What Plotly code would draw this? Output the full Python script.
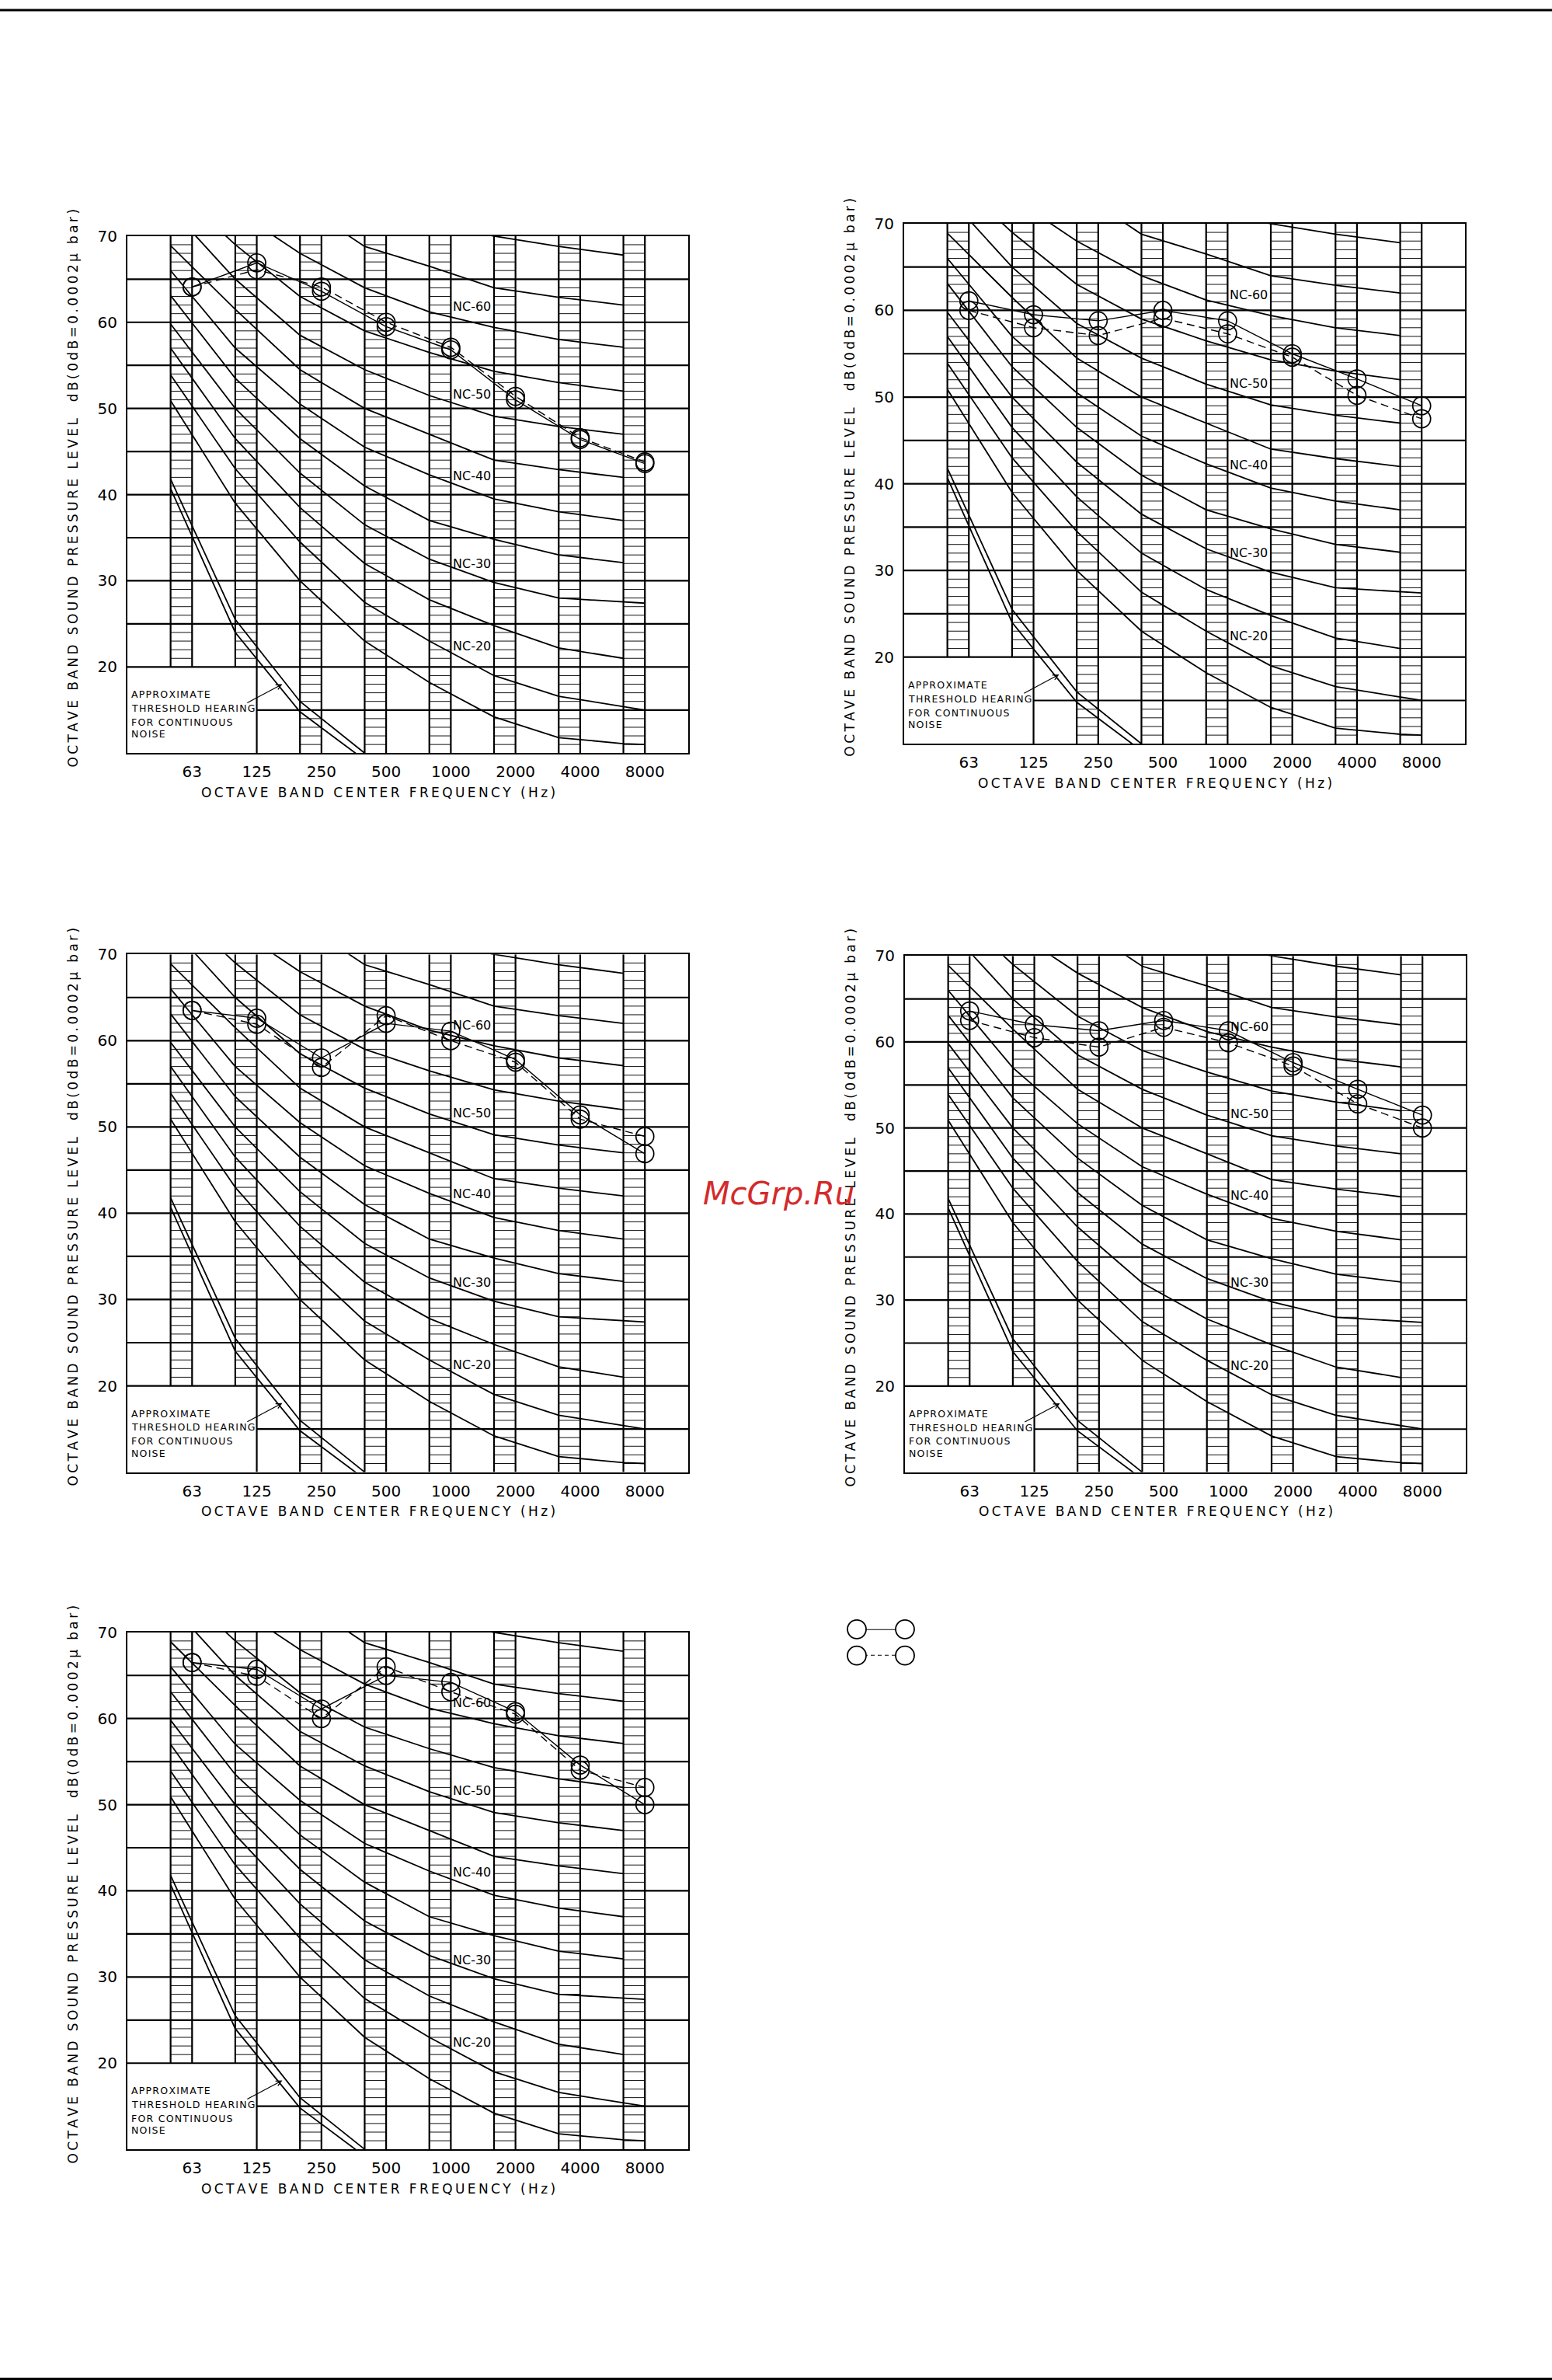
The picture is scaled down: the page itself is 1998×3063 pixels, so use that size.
import plotly.graph_objects as go

W, H = 1998, 3063
FONT = "DejaVu Sans"

# ---------------- data ----------------
FREQS = ["63", "125", "250", "500", "1000", "2000", "4000", "8000"]
Y_TICKS = [20, 30, 40, 50, 60, 70]

# NC curve levels read at the lower edge of each octave band strip
NC_15 = [50.9, 39.0, 30.0, 23.0, 18.2, 14.2, 11.8, 11.1]
NC_20 = [53.9, 43.0, 34.5, 27.5, 23.0, 19.0, 16.6, 15.4]
NC_25 = [57.0, 46.5, 38.5, 32.0, 27.8, 24.8, 22.2, 21.0]
NC_30 = [59.8, 50.0, 42.5, 36.5, 32.5, 29.8, 28.0, 27.5]
NC_35 = [63.1, 53.5, 46.5, 41.0, 37.0, 34.8, 33.0, 32.1]
NC_40 = [66.0, 57.0, 50.5, 45.5, 42.3, 39.5, 38.0, 37.0]
NC_45 = [68.9, 61.5, 54.5, 50.0, 47.0, 44.0, 42.9, 42.0]
NC_50 = [73.2, 65.0, 58.5, 54.5, 51.5, 49.1, 47.9, 47.0]
NC_55 = [76.0, 69.0, 63.0, 59.0, 56.5, 54.3, 53.0, 52.0]
NC_60 = [79.0, 73.0, 68.0, 64.0, 61.2, 59.4, 58.0, 57.1]
NC_65 = [82.0, 77.0, 73.8, 68.8, 66.5, 64.0, 62.9, 62.0]
NC_70 = [85.0, 81.0, 77.0, 73.0, 71.5, 70.0, 68.8, 67.8]
NC_CURVES = [NC_15, NC_20, NC_25, NC_30, NC_35, NC_40,
             NC_45, NC_50, NC_55, NC_60, NC_65, NC_70]
# curves that run on across the 8000 Hz strip: index -> level at its end
NC_TAILS = {0: 11.0, 1: 15.0, 3: 27.4}

THRESH_UPPER = [41.8, 25.5, 16.0, 10.0]
THRESH_LOWER = [40.7, 24.0, 14.8, 9.2]

NC_LABELS = ["NC-60", "NC-50", "NC-40", "NC-30", "NC-20"]
NC_LABEL_Y = [61.8, 51.6, 42.2, 32.0, 22.4]

NOTE_LINES = ["APPROXIMATE", "THRESHOLD HEARING", "FOR CONTINUOUS", "NOISE"]
NOTE_Y = [16.8, 15.2, 13.6, 12.2]

P1_SOLID = [64.1, 66.9, 63.6, 59.5, 56.8, 51.0, 46.4, 43.6]
P1_DASHED = [64.1, 66.1, 64.1, 60.0, 57.1, 51.4, 46.6, 43.8]
P2_SOLID = [61.1, 59.5, 58.8, 60.0, 58.8, 55.0, 52.1, 49.0]
P2_DASHED = [60.0, 58.0, 57.1, 59.1, 57.3, 54.6, 50.2, 47.5]
P3_SOLID = [63.5, 62.6, 58.0, 62.0, 61.1, 57.8, 51.4, 46.9]
P3_DASHED = [63.5, 61.9, 56.9, 62.9, 60.0, 57.5, 50.9, 48.9]
P4_SOLID = [63.6, 62.0, 61.3, 62.5, 61.3, 57.6, 54.5, 51.5]
P4_DASHED = [62.5, 60.5, 59.4, 61.7, 59.9, 57.2, 52.8, 50.0]
P5_SOLID = [66.5, 65.7, 61.1, 65.0, 64.2, 60.8, 54.6, 50.0]
P5_DASHED = [66.5, 64.9, 60.0, 66.0, 63.1, 60.5, 54.0, 52.0]

# ---------------- geometry ----------------
BAND_W = 0.332
XMIN, XMAX = -1.0, 7.67
YMIN, YMAX = 10, 70
BAND_BOTTOM = [20, 20, 10, 10, 10, 10, 10, 10]

# panel boxes in pixels: left, top, right, bottom
PANELS = [
    ((164, 293, 886, 961), P1_SOLID, P1_DASHED),
    ((1164, 277, 1886, 949), P2_SOLID, P2_DASHED),
    ((164, 1221, 886, 1890), P3_SOLID, P3_DASHED),
    ((1165, 1223, 1887, 1890), P4_SOLID, P4_DASHED),
    ((164, 2097, 886, 2765), P5_SOLID, P5_DASHED),
]


def spaced(s, sep="\u2009"):
    return sep.join(list(s))


def px_x(p):
    return p / W


def px_y(p):
    return 1 - p / H


fig = go.Figure()
annotations = []
layout_axes = {}

xc = list(range(len(FREQS)))
band_left = [i - BAND_W for i in xc]

for k, (box, solid, dashed) in enumerate(PANELS):
    n = "" if k == 0 else str(k + 1)
    xa, ya = "x" + n, "y" + n
    l, t, r, b = box

    # hatching inside the band strips
    hx, hy = [], []
    for i in xc:
        for lv in range(BAND_BOTTOM[i] + 1, YMAX):
            hx += [band_left[i], xc[i], None]
            hy += [lv, lv, None]
    fig.add_trace(go.Scatter(x=hx, y=hy, mode="lines", xaxis=xa, yaxis=ya,
                             line=dict(color="#111", width=1), hoverinfo="skip",
                             showlegend=False))
    # strip edges
    vx, vy = [], []
    for i in xc:
        for xe in (band_left[i], xc[i]):
            vx += [xe, xe, None]
            vy += [BAND_BOTTOM[i], YMAX, None]
    vx += [1, 1, None]
    vy += [YMIN, 20, None]
    # horizontal grid
    for lv in range(15, YMAX, 5):
        x0 = 1 if lv < 20 else XMIN
        vx += [x0, XMAX, None]
        vy += [lv, lv, None]
    fig.add_trace(go.Scatter(x=vx, y=vy, mode="lines", xaxis=xa, yaxis=ya,
                             line=dict(color="black", width=2.2), hoverinfo="skip",
                             showlegend=False))
    # NC curves
    for ci, curve in enumerate(NC_CURVES):
        cx = list(band_left)
        cy = list(curve)
        if ci in NC_TAILS:
            cx.append(xc[-1])
            cy.append(NC_TAILS[ci])
        fig.add_trace(go.Scatter(x=cx, y=cy, mode="lines", xaxis=xa, yaxis=ya,
                                 line=dict(color="black", width=1.8),
                                 hoverinfo="skip", showlegend=False))
    # threshold of hearing
    for th in (THRESH_UPPER, THRESH_LOWER):
        fig.add_trace(go.Scatter(x=band_left[:len(th)], y=th, mode="lines",
                                 xaxis=xa, yaxis=ya,
                                 line=dict(color="black", width=1.8),
                                 hoverinfo="skip", showlegend=False))
    # measured spectra
    fig.add_trace(go.Scatter(x=xc, y=dashed, mode="lines+markers", xaxis=xa, yaxis=ya,
                             line=dict(color="black", width=1.4, dash="10px,6px"),
                             marker=dict(symbol="circle-open", size=23,
                                         line=dict(color="black", width=1.7)),
                             cliponaxis=False, showlegend=False))
    fig.add_trace(go.Scatter(x=xc, y=solid, mode="lines+markers", xaxis=xa, yaxis=ya,
                             line=dict(color="black", width=1.4),
                             marker=dict(symbol="circle-open", size=23,
                                         line=dict(color="black", width=1.7)),
                             cliponaxis=False, showlegend=False))

    layout_axes["xaxis" + n] = dict(
        domain=[px_x(l), px_x(r)], range=[XMIN, XMAX], anchor=ya,
        tickmode="array", tickvals=xc, ticktext=FREQS, showgrid=False,
        zeroline=False, showline=True, mirror=True, linecolor="black", linewidth=2.2,
        ticks="", ticklabelstandoff=5,
        tickfont=dict(family=FONT, size=20, color="black"))
    layout_axes["yaxis" + n] = dict(
        domain=[px_y(b), px_y(t)], range=[YMIN, YMAX], anchor=xa,
        tickmode="array", tickvals=Y_TICKS, ticktext=[str(v) for v in Y_TICKS],
        showgrid=False, zeroline=False, showline=True, mirror=True,
        linecolor="black", linewidth=2.2, ticks="", ticklabelstandoff=7,
        tickfont=dict(family=FONT, size=20, color="black"))

    # NC labels
    for lab, yv in zip(NC_LABELS, NC_LABEL_Y):
        annotations.append(dict(x=4.33, y=yv, xref=xa, yref=ya, text=lab,
                                showarrow=False, xanchor="center", yanchor="middle",
                                font=dict(family=FONT, size=16, color="black")))
    # threshold note
    for line_txt, yv in zip(NOTE_LINES, NOTE_Y):
        annotations.append(dict(x=-0.96, y=yv, xref=xa, yref=ya,
                                text=spaced(line_txt, "\u200a"), showarrow=False,
                                xanchor="left", yanchor="middle",
                                font=dict(family=FONT, size=12.5, color="black")))
    annotations.append(dict(x=1.395, y=18.0, ax=0.835, ay=15.76, xref=xa, yref=ya,
                            axref=xa, ayref=ya, text="", showarrow=True,
                            arrowhead=5, arrowsize=1.1, arrowwidth=1.2,
                            arrowcolor="black"))
    # axis titles
    annotations.append(dict(x=px_x((l + r) / 2 - 38), y=px_y(b + 51), xref="paper",
                            yref="paper", xanchor="center", yanchor="middle",
                            text=spaced("OCTAVE BAND CENTER FREQUENCY (Hz)"),
                            showarrow=False,
                            font=dict(family=FONT, size=17, color="black")))
    annotations.append(dict(x=px_x(l - 70), y=px_y((t + b) / 2 - 8), xref="paper",
                            yref="paper", textangle=-90, xanchor="center",
                            yanchor="middle",
                            text=spaced("OCTAVE BAND SOUND PRESSURE LEVEL  dB(0dB=0.0002\u03bc bar)"),
                            showarrow=False,
                            font=dict(family=FONT, size=17, color="black")))

# ---------------- key (solid / dashed) ----------------
KEY_X = [0, 1]
fig.add_trace(go.Scatter(x=KEY_X, y=[1, 1], mode="lines+markers", xaxis="x6", yaxis="y6",
                         line=dict(color="black", width=1.8),
                         marker=dict(symbol="circle", size=24, color="white",
                                     line=dict(color="black", width=1.8)),
                         cliponaxis=False, showlegend=False))
fig.add_trace(go.Scatter(x=KEY_X, y=[0, 0], mode="lines+markers", xaxis="x6", yaxis="y6",
                         line=dict(color="black", width=1.8, dash="5px,4px"),
                         marker=dict(symbol="circle", size=24, color="white",
                                     line=dict(color="black", width=1.8)),
                         cliponaxis=False, showlegend=False))
layout_axes["xaxis6"] = dict(domain=[px_x(1103), px_x(1165)], range=[0, 1], visible=False,
                             anchor="y6")
layout_axes["yaxis6"] = dict(domain=[px_y(2127), px_y(2093)], range=[0, 1], visible=False,
                             anchor="x6")

# watermark
annotations.append(dict(x=px_x(1003), y=px_y(1530), xref="paper", yref="paper",
                        xanchor="center", yanchor="middle",
                        text="McGrp.Ru", showarrow=False,
                        font=dict(family=FONT, size=40, color="#d42a2a", style="italic")))

shapes = [
    dict(type="line", xref="paper", yref="paper", x0=0, x1=1, y0=px_y(1), y1=px_y(1),
         line=dict(color="black", width=3)),
    dict(type="line", xref="paper", yref="paper", x0=0, x1=1, y0=px_y(3061.5),
         y1=px_y(3061.5), line=dict(color="black", width=3)),
]

fig.update_layout(
    width=W, height=H, margin=dict(l=0, r=0, t=0, b=0),
    paper_bgcolor="white", plot_bgcolor="white",
    annotations=annotations, shapes=shapes, showlegend=False,
    **layout_axes,
)

fig.write_html("out.html", config={"displayModeBar": False},
               post_script="document.body.style.margin='0';")
